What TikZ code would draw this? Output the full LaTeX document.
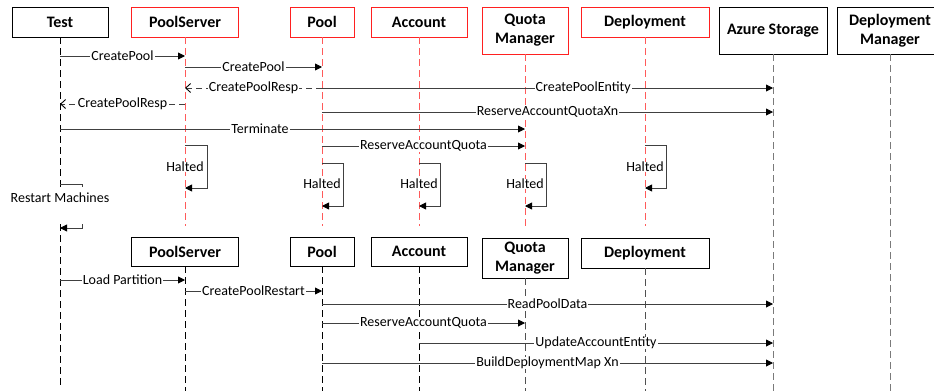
\documentclass[tikz,border=0pt]{standalone}
\usepackage{fontspec}
\setmainfont{Carlito}
\usetikzlibrary{arrows.meta}
\definecolor{redbox}{HTML}{FF2020}
\definecolor{redlife}{HTML}{FF5A5A}
\definecolor{graylife}{HTML}{7A7A7A}
\definecolor{darklife}{HTML}{505050}
\definecolor{msgline}{HTML}{404040}
\begin{document}
\begin{tikzpicture}[x=1pt,y=-1pt,
 box/.style={draw=black, line width=0.9pt, font=\fontsize{16}{19}\selectfont\bfseries, align=center, inner sep=0pt, fill=white},
 redb/.style={box, draw=redbox},
 life/.style={dash pattern=on 7pt off 4pt, line width=1pt, draw=black},
 rlife/.style={life, draw=redlife},
 glife/.style={life, draw=graylife},
 dlife/.style={life, draw=darklife},
 msg/.style={draw=msgline, line width=0.9pt, -{Triangle[length=7pt,width=7pt,color=black,fill=black]}},
 reply/.style={draw=msgline, line width=0.9pt, dash pattern=on 6pt off 4pt, -{Straight Barb[length=5pt,width=9pt,color=black]}},
 lbl/.style={fill=white, inner xsep=1pt, inner ysep=0.5pt, font=\fontsize{14}{16}\selectfont, text=black},
]
\useasboundingbox (0,0) rectangle (934,391);

% top row of boxes
\node[box,  minimum width=96pt,  minimum height=30pt] (test) at (60,22) {Test};
\node[redb, minimum width=107pt, minimum height=30pt] (ps)   at (185,22) {PoolServer};
\node[redb, minimum width=64pt,  minimum height=30pt] (pool) at (322,22) {Pool};
\node[redb, minimum width=96pt,  minimum height=30pt] (acct) at (419,22) {Account};
\node[redb, minimum width=86pt,  minimum height=47pt] (qm)   at (525,30.5) {Quota\\Manager};
\node[redb, minimum width=128pt, minimum height=30pt] (dep)  at (645,22) {Deployment};
\node[box,  minimum width=108pt, minimum height=47pt] (az)   at (773,30.5) {Azure Storage};
\node[box,  minimum width=106pt, minimum height=47pt] (dm)   at (890,30.5) {Deployment\\Manager};

% lifelines (first part)
\coordinate (testend) at (60,385);
\draw[life]  (test.south) -- (testend);
\draw[rlife] (ps.south)   -- (ps.south   |- 0,226);
\draw[rlife] (pool.south) -- (pool.south |- 0,226);
\draw[rlife] (acct.south) -- (acct.south |- 0,226);
\draw[rlife] (qm.south)   -- (qm.south   |- 0,226);
\draw[rlife] (dep.south)  -- (dep.south  |- 0,226);
\draw[glife] (az.south)   -- (az.south   |- 0,391);
\draw[glife] (dm.south)   -- (dm.south   |- 0,391);

% messages (first part)
\draw[msg] (test.south |- 0,56) -- node[lbl] (l1) {CreatePool} (ps.south |- 0,56);
\draw[msg] (ps.south |- 0,67) -- node[lbl] (l2) {CreatePool} (pool.south |- 0,67);
\draw[reply] (pool.south |- 0,88) -- node[lbl] (l3) {CreatePoolResp} (ps.south |- 0,88);
\draw[msg] (pool.south |- 0,88) -- node[lbl, pos=0.579] (l4) {CreatePoolEntity} (az.south |- 0,88);
\draw[reply] (ps.south |- 0,104) -- node[lbl] (l5) {CreatePoolResp} (test.south |- 0,104);
\draw[msg] (pool.south |- 0,112) -- node[lbl] (l6) {ReserveAccountQuotaXn} (az.south |- 0,112);
\draw[msg] (test.south |- 0,129) -- node[lbl, pos=0.43] (l7) {Terminate} (qm.south |- 0,129);
\draw[msg] (pool.south |- 0,146) -- node[lbl] (l8) {ReserveAccountQuota} (qm.south |- 0,146);

% halted self messages
\draw[msg] (ps.south |- 0,145) -- ++(22,0) |- (ps.south |- 0,188);
\node[lbl] (h1) at (ps.south |- 0,167) {Halted};
\draw[msg] (pool.south |- 0,163) -- ++(21,0) |- (pool.south |- 0,206);
\node[lbl] (h2) at (pool.south |- 0,184) {Halted};
\draw[msg] (acct.south |- 0,163) -- ++(21,0) |- (acct.south |- 0,206);
\node[lbl] (h3) at (acct.south |- 0,184) {Halted};
\draw[msg] (qm.south |- 0,163) -- ++(21,0) |- (qm.south |- 0,206);
\node[lbl] (h4) at (qm.south |- 0,184) {Halted};
\draw[msg] (dep.south |- 0,145) -- ++(21,0) |- (dep.south |- 0,188);
\node[lbl] (h5) at (dep.south |- 0,167) {Halted};

% restart machines
\draw[msg] (test.south |- 0,184) -- ++(22,0) |- (test.south |- 0,228);
\node[fill=white, minimum width=102pt, minimum height=37pt, inner sep=0pt] (rmbg) at (61,205.5) {};
\node[lbl, fill=none] (rm) at (60,198) {Restart Machines};

% second row of boxes
\node[box, minimum width=107pt, minimum height=29pt] (ps2)   at (185,251.5) {PoolServer};
\node[box, minimum width=64pt,  minimum height=29pt] (pool2) at (322,251.5) {Pool};
\node[box, minimum width=96pt,  minimum height=29pt] (acct2) at (419,251.5) {Account};
\node[box, minimum width=86pt,  minimum height=40pt] (qm2)   at (525,258) {Quota\\Manager};
\node[box, minimum width=128pt, minimum height=30pt] (dep2)  at (645,253) {Deployment};

% lifelines (second part)
\draw[life]  (ps2.south)   -- (ps2.south   |- 0,391);
\draw[life]  (pool2.south) -- (pool2.south |- 0,391);
\draw[life]  (acct2.south) -- (acct2.south |- 0,391);
\draw[dlife] (qm2.south)   -- (qm2.south   |- 0,391);
\draw[dlife] (dep2.south)  -- (dep2.south  |- 0,391);

% messages (second part)
\draw[msg] (test.south |- 0,280) -- node[lbl] (m1) {Load Partition} (ps2.south |- 0,280);
\draw[msg] (ps2.south |- 0,291) -- node[lbl] (m2) {CreatePoolRestart} (pool2.south |- 0,291);
\draw[msg] (pool2.south |- 0,304) -- node[lbl] (m3) {ReadPoolData} (az.south |- 0,304);
\draw[msg] (pool2.south |- 0,323) -- node[lbl] (m4) {ReserveAccountQuota} (qm2.south |- 0,323);
\draw[msg] (acct2.south |- 0,343) -- node[lbl] (m5) {UpdateAccountEntity} (az.south |- 0,343);
\draw[msg] (pool2.south |- 0,363) -- node[lbl] (m6) {BuildDeploymentMap Xn} (az.south |- 0,363);
\end{tikzpicture}
\end{document}
